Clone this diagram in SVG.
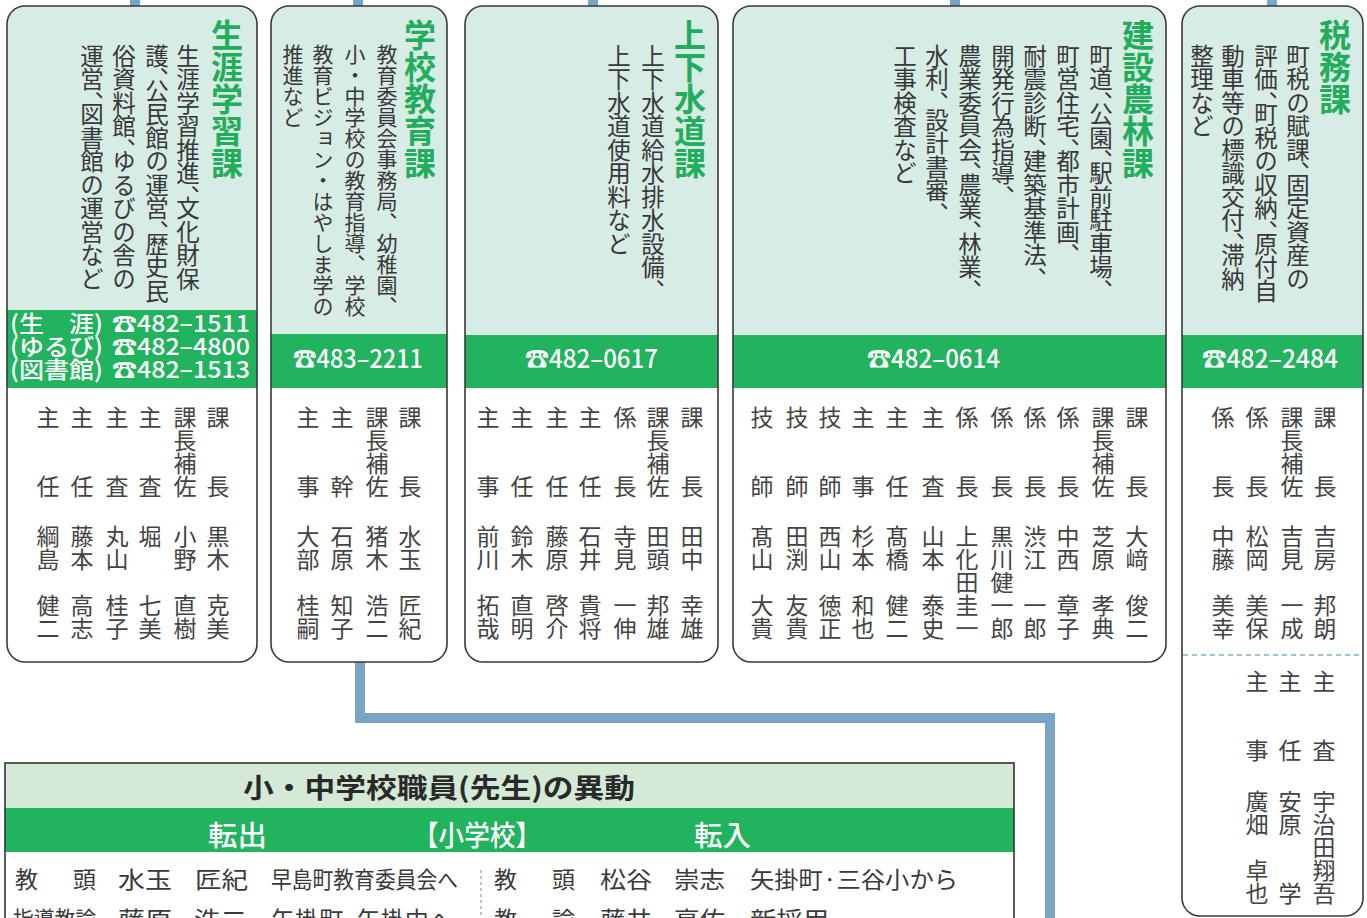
<svg xmlns="http://www.w3.org/2000/svg" width="1367" height="918" viewBox="0 0 1367 918">
<style>
.t{font-family:"Noto Sans CJK JP","Noto Sans CJK SC",sans-serif}
.v{writing-mode:vertical-rl}
.box{fill:none;stroke:#3a3a3a;stroke-width:1.6}
.lf{fill:#d7ece4}
.band{fill:#22b35f}
.ttl{font-size:32px;font-weight:700;fill:#22ad5c}
.d{font-size:23.5px;fill:#383838;font-feature-settings:"vhal"}
.d2{font-size:21px;fill:#383838}
.s{font-size:23px;fill:#444}
.ph{font-size:25px;fill:#fff;font-weight:500}
.ph1{font-size:23px;fill:#fff;font-weight:500}
.con{fill:none;stroke:#78a5c6;stroke-width:10}
.row{font-size:23px;fill:#3a3a3a}
.hd{font-size:27px;font-weight:700;fill:#2a2a2a}
.gb{font-size:28px;fill:#fff;font-weight:500}
</style>
<g id="connectors">
<line class="con" x1="135" y1="0" x2="135" y2="7"/>
<line class="con" x1="358" y1="0" x2="358" y2="7"/>
<line class="con" x1="593" y1="0" x2="593" y2="7"/>
<line class="con" x1="955" y1="0" x2="955" y2="7"/>
<line class="con" x1="1272" y1="0" x2="1272" y2="7"/>
<path class="con" d="M360,662 V718 H1050 V918"/>
</g>
<g id="shogai">
<path class="lf" d="M7,24 A18,18 0 0 1 25,6 H239 A18,18 0 0 1 257,24 V310 H7 Z"/>
<rect class="band" x="7" y="310" width="250" height="78"/>
<rect class="box" x="7" y="6" width="250" height="656" rx="18"/>
<text class="t v ttl" x="227" y="19">生涯学習課</text>
<text class="t v d" x="188" y="44">生涯学習推進、文化財保</text>
<text class="t v d" x="157" y="44">護、公民館の運営、歴史民</text>
<text class="t v d" x="124" y="44">俗資料館、ゆるびの舎の</text>
<text class="t v d" x="92" y="44">運営、図書館の運営など</text>
<text class="t ph1" x="10" y="332" textLength="93" lengthAdjust="spacingAndGlyphs">(生　涯)</text>
<text class="t ph1" x="112" y="332" textLength="138" lengthAdjust="spacingAndGlyphs">☎482–1511</text>
<text class="t ph1" x="10" y="355" textLength="93" lengthAdjust="spacingAndGlyphs">(ゆるび)</text>
<text class="t ph1" x="112" y="355" textLength="138" lengthAdjust="spacingAndGlyphs">☎482–4800</text>
<text class="t ph1" x="10" y="378" textLength="93" lengthAdjust="spacingAndGlyphs">(図書館)</text>
<text class="t ph1" x="112" y="378" textLength="138" lengthAdjust="spacingAndGlyphs">☎482–1513</text>
<text class="t v s" x="218" y="406">課　　長</text><text class="t v s" x="218" y="525">黒木　克美</text>
<text class="t v s" x="185" y="406">課長補佐</text><text class="t v s" x="185" y="525">小野　直樹</text>
<text class="t v s" x="150" y="406">主　　査</text><text class="t v s" x="150" y="525">堀　　七美</text>
<text class="t v s" x="117" y="406">主　　査</text><text class="t v s" x="117" y="525">丸山　桂子</text>
<text class="t v s" x="82" y="406">主　　任</text><text class="t v s" x="82" y="525">藤本　高志</text>
<text class="t v s" x="48" y="406">主　　任</text><text class="t v s" x="48" y="525">綱島　健二</text>
</g>
<g id="gakko">
<path class="lf" d="M271,24 A18,18 0 0 1 289,6 H429 A18,18 0 0 1 447,24 V334 H271 Z"/>
<rect class="band" x="271" y="334" width="176" height="54"/>
<rect class="box" x="271" y="6" width="176" height="656" rx="18"/>
<text class="t v ttl" x="420" y="19">学校教育課</text>
<text class="t v d2" x="387" y="44">教育委員会事務局、幼稚園、</text>
<text class="t v d2" x="355" y="44">小・中学校の教育指導、学校</text>
<text class="t v d2" x="323" y="44">教育ビジョン・はやしま学の</text>
<text class="t v d2" x="293" y="44">推進など</text>
<text class="t ph" x="293" y="368" textLength="130" lengthAdjust="spacingAndGlyphs">☎483–2211</text>
<text class="t v s" x="410" y="406">課　　長</text><text class="t v s" x="410" y="525">水玉　匠紀</text>
<text class="t v s" x="377" y="406">課長補佐</text><text class="t v s" x="377" y="525">猪木　浩二</text>
<text class="t v s" x="342" y="406">主　　幹</text><text class="t v s" x="342" y="525">石原　知子</text>
<text class="t v s" x="308" y="406">主　　事</text><text class="t v s" x="308" y="525">大部　桂嗣</text>
</g>
<g id="jogesuido">
<path class="lf" d="M465,24 A18,18 0 0 1 483,6 H700 A18,18 0 0 1 718,24 V335 H465 Z"/>
<rect class="band" x="465" y="335" width="253" height="53"/>
<rect class="box" x="465" y="6" width="253" height="656" rx="18"/>
<text class="t v ttl" x="690" y="19">上下水道課</text>
<text class="t v d" x="653" y="44">上下水道給水排水設備、</text>
<text class="t v d" x="619" y="44">上下水道使用料など</text>
<text class="t ph" x="525" y="368" textLength="133" lengthAdjust="spacingAndGlyphs">☎482–0617</text>
<text class="t v s" x="692" y="406">課　　長</text><text class="t v s" x="692" y="525">田中　幸雄</text>
<text class="t v s" x="658" y="406">課長補佐</text><text class="t v s" x="658" y="525">田頭　邦雄</text>
<text class="t v s" x="625" y="406">係　　長</text><text class="t v s" x="625" y="525">寺見　一伸</text>
<text class="t v s" x="590" y="406">主　　任</text><text class="t v s" x="590" y="525">石井　貴将</text>
<text class="t v s" x="557" y="406">主　　任</text><text class="t v s" x="557" y="525">藤原　啓介</text>
<text class="t v s" x="522" y="406">主　　任</text><text class="t v s" x="522" y="525">鈴木　直明</text>
<text class="t v s" x="488" y="406">主　　事</text><text class="t v s" x="488" y="525">前川　拓哉</text>
</g>
<g id="kensetsu">
<path class="lf" d="M733,24 A18,18 0 0 1 751,6 H1148 A18,18 0 0 1 1166,24 V335 H733 Z"/>
<rect class="band" x="733" y="335" width="433" height="53"/>
<rect class="box" x="733" y="6" width="433" height="656" rx="18"/>
<text class="t v ttl" x="1138" y="19">建設農林課</text>
<text class="t v d" x="1101" y="44">町道、公園、駅前駐車場、</text>
<text class="t v d" x="1068" y="44">町営住宅、都市計画、</text>
<text class="t v d" x="1035" y="44">耐震診断、建築基準法、</text>
<text class="t v d" x="1003" y="44">開発行為指導、</text>
<text class="t v d" x="970" y="44">農業委員会、農業、林業、</text>
<text class="t v d" x="937" y="44">水利、 設計書審、</text>
<text class="t v d" x="905" y="44">工事検査など</text>
<text class="t ph" x="867" y="368" textLength="133" lengthAdjust="spacingAndGlyphs">☎482–0614</text>
<text class="t v s" x="1137" y="406">課　　長</text><text class="t v s" x="1137" y="525">大﨑　俊二</text>
<text class="t v s" x="1103" y="406">課長補佐</text><text class="t v s" x="1103" y="525">芝原　孝典</text>
<text class="t v s" x="1068" y="406">係　　長</text><text class="t v s" x="1068" y="525">中西　章子</text>
<text class="t v s" x="1035" y="406">係　　長</text><text class="t v s" x="1035" y="525">渋江　一郎</text>
<text class="t v s" x="1002" y="406">係　　長</text><text class="t v s" x="1002" y="525">黒川健一郎</text>
<text class="t v s" x="967" y="406">係　　長</text><text class="t v s" x="967" y="525">上化田圭一</text>
<text class="t v s" x="933" y="406">主　　査</text><text class="t v s" x="933" y="525">山本　泰史</text>
<text class="t v s" x="897" y="406">主　　任</text><text class="t v s" x="897" y="525">髙橋　健二</text>
<text class="t v s" x="863" y="406">主　　事</text><text class="t v s" x="863" y="525">杉本　和也</text>
<text class="t v s" x="830" y="406">技　　師</text><text class="t v s" x="830" y="525">西山　徳正</text>
<text class="t v s" x="797" y="406">技　　師</text><text class="t v s" x="797" y="525">田渕　友貴</text>
<text class="t v s" x="762" y="406">技　　師</text><text class="t v s" x="762" y="525">髙山　大貴</text>
</g>
<g id="zeimu">
<path class="lf" d="M1182,24 A18,18 0 0 1 1200,6 H1345 A18,18 0 0 1 1363,24 V335 H1182 Z"/>
<rect class="band" x="1182" y="335" width="181" height="53"/>
<rect class="box" x="1182" y="6" width="181" height="910" rx="18"/>
<line x1="1183" y1="655" x2="1362" y2="655" stroke="#7fb0d0" stroke-width="1.5" stroke-dasharray="5,4"/>
<text class="t v ttl" x="1335" y="19">税務課</text>
<text class="t v d" x="1298" y="44">町税の賦課、固定資産の</text>
<text class="t v d" x="1266" y="44">評価、町税の収納、原付自</text>
<text class="t v d" x="1233" y="44">動車等の標識交付、滞納</text>
<text class="t v d" x="1202" y="44">整理など</text>
<text class="t ph" x="1202" y="368" textLength="136" lengthAdjust="spacingAndGlyphs">☎482–2484</text>
<text class="t v s" x="1325" y="406">課　　長</text><text class="t v s" x="1325" y="525">吉房　邦朗</text>
<text class="t v s" x="1292" y="406">課長補佐</text><text class="t v s" x="1292" y="525">吉見　一成</text>
<text class="t v s" x="1257" y="406">係　　長</text><text class="t v s" x="1257" y="525">松岡　美保</text>
<text class="t v s" x="1223" y="406">係　　長</text><text class="t v s" x="1223" y="525">中藤　美幸</text>
<text class="t v s" x="1324" y="670">主　　査</text><text class="t v s" x="1324" y="790">宇治田翔吾</text>
<text class="t v s" x="1290" y="670">主　　任</text><text class="t v s" x="1290" y="790">安原　　学</text>
<text class="t v s" x="1257" y="670">主　　事</text><text class="t v s" x="1257" y="790">廣畑　卓也</text>
</g>
<g id="idou">
<rect x="5" y="763" width="1009" height="45" fill="#d4ead6"/>
<rect x="5" y="808" width="1009" height="44" fill="#22b35f"/>
<rect x="5" y="763" width="1009" height="170" fill="none" stroke="#333" stroke-width="1.6"/>
<text class="t hd" x="243" y="798" textLength="392" lengthAdjust="spacingAndGlyphs">小・中学校職員(先生)の異動</text>
<text class="t gb" x="208" y="846" textLength="59" lengthAdjust="spacingAndGlyphs">転出</text>
<text class="t gb" x="413" y="846" textLength="128" lengthAdjust="spacingAndGlyphs">【小学校】</text>
<text class="t gb" x="694" y="846" textLength="57" lengthAdjust="spacingAndGlyphs">転入</text>
<line x1="481" y1="870" x2="481" y2="918" stroke="#888" stroke-width="1" stroke-dasharray="3,3"/>
<text class="t row" x="15" y="888">教</text>
<text class="t row" x="73" y="888">頭</text>
<text class="t row" x="118" y="888" textLength="54" lengthAdjust="spacingAndGlyphs">水玉</text>
<text class="t row" x="195" y="888" textLength="53" lengthAdjust="spacingAndGlyphs">匠紀</text>
<text class="t row" x="271" y="888" textLength="187" lengthAdjust="spacingAndGlyphs">早島町教育委員会へ</text>
<text class="t row" x="13" y="928" textLength="83" lengthAdjust="spacingAndGlyphs">指導教諭</text>
<text class="t row" x="118" y="928" textLength="54" lengthAdjust="spacingAndGlyphs">藤原</text>
<text class="t row" x="194" y="928" textLength="53" lengthAdjust="spacingAndGlyphs">浩二</text>
<text class="t row" x="271" y="928" textLength="182" lengthAdjust="spacingAndGlyphs">矢掛町·矢掛中へ</text>
<text class="t row" x="494" y="888">教</text>
<text class="t row" x="552" y="888">頭</text>
<text class="t row" x="600" y="888" textLength="52" lengthAdjust="spacingAndGlyphs">松谷</text>
<text class="t row" x="674" y="888" textLength="51" lengthAdjust="spacingAndGlyphs">崇志</text>
<text class="t row" x="750" y="888" textLength="208" lengthAdjust="spacingAndGlyphs">矢掛町·三谷小から</text>
<text class="t row" x="494" y="928">教</text>
<text class="t row" x="552" y="928">諭</text>
<text class="t row" x="600" y="928" textLength="52" lengthAdjust="spacingAndGlyphs">藤井</text>
<text class="t row" x="674" y="928" textLength="51" lengthAdjust="spacingAndGlyphs">亮佑</text>
<text class="t row" x="750" y="928" textLength="79" lengthAdjust="spacingAndGlyphs">新採用</text>
</g>
</svg>
